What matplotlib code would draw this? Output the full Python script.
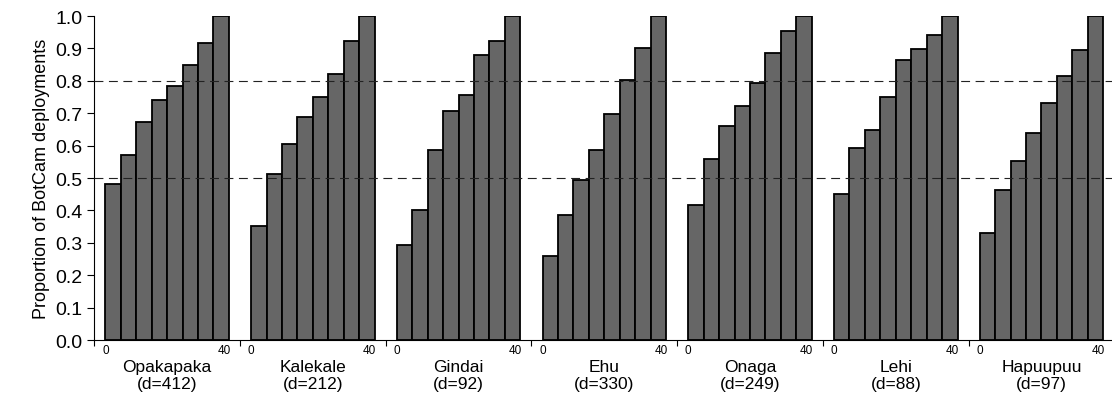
import numpy as np
import matplotlib.pyplot as plt

plt.rcParams['font.family'] = ['Liberation Sans', 'DejaVu Sans']

species = ["Opakapaka", "Kalekale", "Gindai", "Ehu", "Onaga", "Lehi", "Hapuupuu"]
deployments = [412, 212, 92, 330, 249, 88, 97]
bin_starts = [0, 5, 10, 15, 20, 25, 30, 35]

opakapaka = [0.481, 0.572, 0.674, 0.742, 0.783, 0.848, 0.918, 1.0]
kalekale = [0.353, 0.512, 0.605, 0.687, 0.749, 0.821, 0.924, 1.0]
gindai = [0.293, 0.401, 0.587, 0.706, 0.757, 0.881, 0.923, 1.0]
ehu = [0.259, 0.387, 0.495, 0.587, 0.698, 0.801, 0.902, 1.0]
onaga = [0.418, 0.558, 0.660, 0.723, 0.792, 0.886, 0.953, 1.0]
lehi = [0.452, 0.592, 0.648, 0.749, 0.864, 0.898, 0.941, 1.0]
hapuupuu = [0.329, 0.464, 0.552, 0.639, 0.732, 0.814, 0.895, 1.0]
proportions = [opakapaka, kalekale, gindai, ehu, onaga, lehi, hapuupuu]

bin_width = 5
gap = 7.2
period = 40 + gap

fig = plt.figure(figsize=(11.12, 4.02), dpi=100)
ax = fig.add_axes([0.0848, 0.1517, 0.9173, 0.806])

xt = ax.get_xaxis_transform()
for g, (name, d, vals) in enumerate(zip(species, deployments, proportions)):
    start = gap / 2 + g * period
    x = start + np.array(bin_starts)
    ax.bar(x, vals, width=bin_width, align='edge', color='#666666',
           edgecolor='black', linewidth=1.3, zorder=2)
    ax.text(start, -0.013, "0", transform=xt, ha='center', va='top', fontsize=8.5)
    ax.text(start + 40.5, -0.013, "40", transform=xt, ha='right', va='top', fontsize=8.5)
    ax.text(start + 20, -0.096, name, transform=xt, ha='center', va='baseline', fontsize=12.5)
    ax.text(start + 20, -0.148, "(d=%d)" % d, transform=xt, ha='center', va='baseline', fontsize=12.5)

for yv in [0.5, 0.8]:
    ax.axhline(yv, color='#222222', linewidth=0.8, linestyle=(0, (8, 5)), zorder=3)

ax.set_xlim(0, 7 * period)
ax.set_ylim(0, 1.0)
ax.set_xticks([g * period for g in range(8)])
ax.set_xticklabels([])
ax.set_yticks(np.arange(0, 1.01, 0.1))
ax.set_yticklabels(["%.1f" % v for v in np.arange(0, 1.01, 0.1)], fontsize=14)
ax.tick_params(axis='y', length=5, width=0.8, pad=3.5)
ax.tick_params(axis='x', length=4, width=0.8)
ax.spines['top'].set_visible(False)
ax.spines['right'].set_visible(False)
ax.spines['left'].set_linewidth(0.8)
ax.spines['bottom'].set_linewidth(0.8)
ax.set_ylabel("Proportion of BotCam deployments", fontsize=13, labelpad=4)

fig.savefig("out.png", dpi=100)
